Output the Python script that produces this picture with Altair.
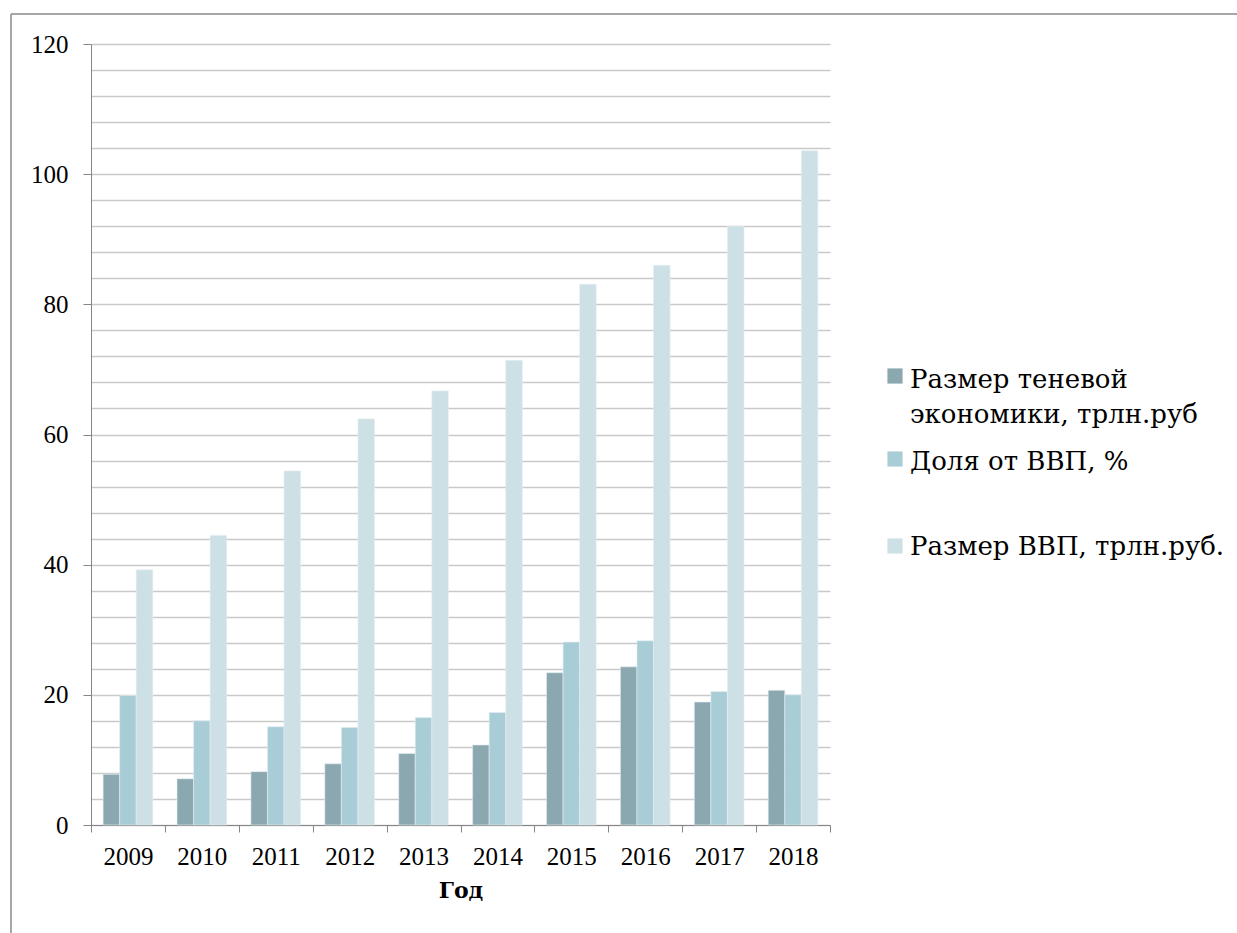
import altair as alt
import pandas as pd

# Годы и показатели
years = ["2009", "2010", "2011", "2012", "2013", "2014", "2015", "2016", "2017", "2018"]
shadow_economy = [7.8, 7.1, 8.2, 9.4, 11.0, 12.3, 23.4, 24.3, 18.9, 20.7]   # трлн.руб
share_of_gdp = [19.9, 16.0, 15.1, 15.0, 16.5, 17.3, 28.1, 28.3, 20.5, 20.0]  # %
gdp_size = [39.2, 44.5, 54.4, 62.4, 66.7, 71.4, 83.1, 86.0, 92.0, 103.6]     # трлн.руб

series_names = [
    "Размер теневой экономики, трлн.руб",
    "Доля от ВВП, %",
    "Размер ВВП, трлн.руб.",
]
series_colors = ["#8ba8b0", "#a9cdd7", "#cde0e6"]

rows = []
for name, values in zip(series_names, [shadow_economy, share_of_gdp, gdp_size]):
    for year, v in zip(years, values):
        rows.append({"Год": year, "Показатель": name, "Значение": v})
df = pd.DataFrame(rows)

FONT = "Liberation Serif"
CYR_FONT = "DejaVu Serif"
W, H = 739, 781

bars = alt.Chart(df).mark_bar(stroke="#e4eef1", strokeWidth=0.6).encode(
    x=alt.X(
        "Год:N",
        sort=years,
        scale=alt.Scale(paddingInner=0, paddingOuter=0),
        axis=alt.Axis(
            title="Год",
            labelAngle=0,
            tickBand="extent",
            tickSize=7,
            tickColor="#868686",
            domainColor="#868686",
            labelPadding=12,
            titlePadding=11,
            titleFont=CYR_FONT,
            titleFontSize=22,
            titleFontWeight="bold",
            grid=False,
        ),
    ),
    xOffset=alt.XOffset(
        "Показатель:N",
        sort=series_names,
        scale=alt.Scale(paddingInner=0, paddingOuter=0.73),
    ),
    y=alt.Y(
        "Значение:Q",
        scale=alt.Scale(domain=[0, 120], nice=False),
        axis=alt.Axis(
            title=None,
            values=list(range(0, 121, 4)),
            labelExpr="datum.value % 20 === 0 ? datum.label : ''",
            tickOpacity={"condition": {"test": "datum.value % 20 === 0", "value": 1}, "value": 0},
            tickSize=8,
            tickColor="#868686",
            domainColor="#868686",
            labelPadding=15,
            gridColor="#c9c9c9",
            gridWidth=1.3,
        ),
    ),
    color=alt.Color(
        "Показатель:N",
        sort=series_names,
        scale=alt.Scale(domain=series_names, range=series_colors),
        legend=None,
    ),
)

one = pd.DataFrame({"k": [0]})

# Рамка вокруг диаграммы
frame_top = alt.Chart(one).mark_rule(color="#8a8a8a", strokeWidth=1.5).encode(
    x=alt.value(-80), x2=alt.value(1160), y=alt.value(-30)
)
frame_left = alt.Chart(one).mark_rule(color="#8a8a8a", strokeWidth=1.5).encode(
    x=alt.value(-80), y=alt.value(-30), y2=alt.value(920)
)

# Легенда справа: каждая строка подписи отдельным текстом
legend_layers = []
legend_rows = [
    ([("Размер теневой", 344), ("экономики, трлн.руб", 379)], 332),
    ([("Доля от ВВП, %", 426)], 415),
    ([("Размер ВВП, трлн.руб.", 511)], 502),
]
for (lines, sym_y), col in zip(legend_rows, series_colors):
    legend_layers.append(
        alt.Chart(one).mark_square(size=230, color=col, opacity=1).encode(
            x=alt.value(804), y=alt.value(sym_y)
        )
    )
    for line, text_y in lines:
        legend_layers.append(
            alt.Chart(one).mark_text(
                align="left",
                baseline="alphabetic",
                font=CYR_FONT,
                fontSize=26,
                color="#000000",
            ).encode(
                x=alt.value(819),
                y=alt.value(text_y),
                text=alt.value(line),
            )
        )

chart = alt.layer(bars, frame_top, frame_left, *legend_layers).properties(
    width=W,
    height=H,
    autosize=alt.AutoSizeParams(type="none"),
    padding={"left": 91, "top": 44, "right": 1237 - 91 - W, "bottom": 933 - 44 - H},
).configure_view(stroke=None).configure_axis(
    labelFont=FONT,
    labelFontSize=25,
    labelColor="#000000",
    titleColor="#000000",
)

chart.save("out.html", embed_options={"renderer": "svg", "actions": False})
